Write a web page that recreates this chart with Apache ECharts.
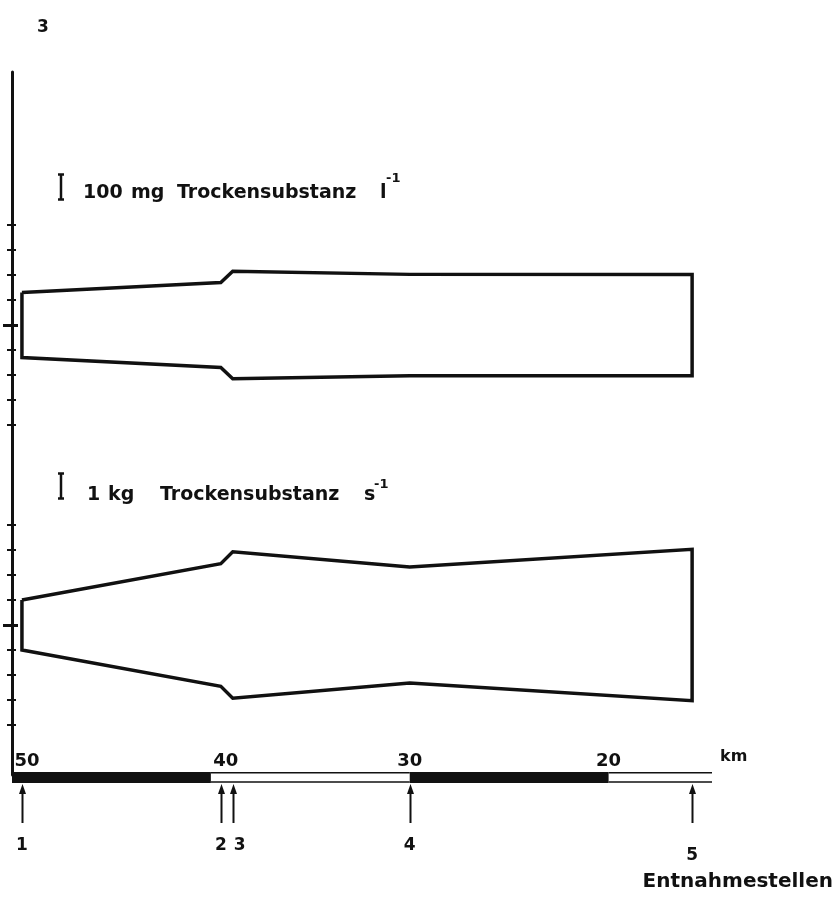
<!DOCTYPE html>
<html>
<head>
<meta charset="utf-8">
<script src="https://cdn.jsdelivr.net/npm/echarts@6/dist/echarts.min.js"></script>
<style>
html, body { margin: 0; padding: 0; background: #fff; }
#chart { width: 834px; height: 906px; }
</style>
</head>
<body>
<div id="chart"></div>
<script>
// Entnahmestellen (sampling points) and their river km
const stations = ['1', '2', '3', '4', '5']
const stationKm = [49.5, 39.5, 38.9, 30.0, 15.8]

// band width at each station
const concentration = [260, 340, 430, 405, 405] // mg Trockensubstanz l-1
const load = [2.0, 4.9, 5.85, 4.65, 6.05] // kg Trockensubstanz s-1

// y ticks: one every 100 mg/l and every 1 kg/s
const concTicks = [-400, -300, -200, -100, 0, 100, 200, 300, 400]
const loadTicks = [-4, -3, -2, -1, 0, 1, 2, 3, 4]

// km scale bar: [from, to, filled]
const kmTicks = [50, 40, 30, 20]
const kmSegments = [[50, 40, 1], [40, 30, 0], [30, 20, 1], [20, 14.8, 0]]
const kmMin = 14.8
const kmMax = 50

const INK = '#111'
const FONT = '"DejaVu Sans", sans-serif'

// closed outline of a band: upper edge left to right, lower edge back
function outline(widths) {
  const top = stationKm.map((km, i) => [km, widths[i] / 2])
  const bottom = stationKm.map((km, i) => [km, -widths[i] / 2]).reverse()
  return [...top, ...bottom, top[0]]
}

function kmAxis(gridIndex, extra) {
  return Object.assign({
    gridIndex,
    type: 'value',
    min: kmMin,
    max: kmMax,
    inverse: true,
    show: false,
    axisLine: { onZero: false },
    splitLine: { show: false },
  }, extra)
}

// ticks crossing the axis line, the centre one longer
function tickAxes(gridIndex, range, ticks) {
  const minor = ticks.filter((v) => v !== 0)
  const make = (values, inside, length, width) => ({
    gridIndex,
    type: 'value',
    position: 'left',
    min: -range,
    max: range,
    axisLine: { show: false, onZero: false },
    axisLabel: { show: false },
    splitLine: { show: false },
    axisTick: {
      show: true,
      inside,
      length,
      customValues: values,
      lineStyle: { color: INK, width },
    },
  })
  return [
    make(minor, false, 5, 2),
    make(minor, true, 4, 2),
    make([0], false, 9, 3),
    make([0], true, 6, 3),
  ]
}

// label nudges (px) for the station numbers: [right, down]
const stationNudge = { '3': [7, 0], '5': [0, 10] }

const boldText = (size) => ({ fontFamily: FONT, fontWeight: 'bold', fontSize: size, color: INK })

const stationRich = { s: boldText(17) }
Object.keys(stationNudge).forEach((name) => {
  const n = stationNudge[name]
  stationRich['n' + name] = Object.assign(boldText(17), {
    padding: [n[1], n[0] < 0 ? -n[0] * 2 : 0, 0, n[0] > 0 ? n[0] * 2 : 0],
  })
})

const chart = echarts.init(document.getElementById('chart'))

chart.setOption({
  animation: false,
  backgroundColor: '#fff',
  textStyle: { fontFamily: FONT },
  grid: [
    { left: 12, width: 700, top: 72, height: 703 },
    { left: 12, width: 700, top: 125, height: 400 },
    { left: 12, width: 700, top: 425, height: 400 },
    { left: 12, width: 700, top: 772, height: 11 },
    { left: 12, width: 700, top: 784, height: 39 },
  ],
  xAxis: [
    kmAxis(0),
    kmAxis(1),
    kmAxis(2),
    kmAxis(3, {
      show: true,
      position: 'top',
      axisLine: { show: false, onZero: false },
      axisTick: { show: false },
      axisLabel: {
        customValues: kmTicks,
        margin: 2,
        formatter: (v) => (v >= 40 ? '{l|' + v + '}' : '{c|' + v + '}'),
        rich: {
          l: Object.assign(boldText(18), { padding: [0, 0, 0, 30] }),
          c: boldText(18),
        },
      },
    }),
    kmAxis(4, {
      show: true,
      position: 'bottom',
      axisLine: { show: false, onZero: false },
      axisTick: { show: false },
      axisLabel: {
        customValues: stationKm,
        margin: 14,
        formatter: (v) => {
          const name = stations[stationKm.indexOf(v)]
          return stationNudge[name] ? '{n' + name + '|' + name + '}' : '{s|' + name + '}'
        },
        rich: stationRich,
      },
    }),
  ],
  yAxis: [
    {
      gridIndex: 0,
      type: 'value',
      min: 0,
      max: 1,
      axisLine: { show: true, onZero: false, lineStyle: { color: INK, width: 3 } },
      axisTick: { show: false },
      axisLabel: { show: false },
      splitLine: { show: false },
    },
    ...tickAxes(1, 800, concTicks),
    ...tickAxes(2, 8, loadTicks),
    { gridIndex: 3, type: 'value', min: 0, max: 1, show: false },
    { gridIndex: 4, type: 'value', min: 0, max: 1, show: false },
  ],
  series: [
    {
      name: 'mg Trockensubstanz l-1',
      type: 'line',
      xAxisIndex: 1,
      yAxisIndex: 1,
      data: outline(concentration),
      symbol: 'none',
      lineStyle: { color: INK, width: 3.5, join: 'miter' },
    },
    {
      name: 'kg Trockensubstanz s-1',
      type: 'line',
      xAxisIndex: 2,
      yAxisIndex: 5,
      data: outline(load),
      symbol: 'none',
      lineStyle: { color: INK, width: 3.5, join: 'miter' },
    },
    {
      type: 'custom',
      xAxisIndex: 3,
      yAxisIndex: 9,
      data: kmSegments,
      encode: { x: [0, 1] },
      renderItem: (params, api) => {
        const a = api.coord([api.value(0), 1])
        const b = api.coord([api.value(1), 0])
        const x = Math.min(a[0], b[0])
        const w = Math.abs(b[0] - a[0])
        const y = a[1]
        const h = b[1] - a[1]
        if (api.value(2)) {
          return { type: 'rect', shape: { x, y, width: w, height: h }, style: { fill: INK } }
        }
        return {
          type: 'group',
          children: [
            { type: 'line', shape: { x1: x, y1: y + 0.75, x2: x + w, y2: y + 0.75 }, style: { stroke: INK, lineWidth: 1.5 } },
            { type: 'line', shape: { x1: x, y1: y + h - 1, x2: x + w, y2: y + h - 1 }, style: { stroke: INK, lineWidth: 1.5 } },
          ],
        }
      },
    },
    {
      type: 'custom',
      xAxisIndex: 4,
      yAxisIndex: 10,
      data: stationKm.map((km) => [km]),
      encode: { x: 0 },
      renderItem: (params, api) => {
        const top = api.coord([api.value(0), 1])
        const bottom = api.coord([api.value(0), 0])
        const x = Math.round(top[0]) + 0.5
        return {
          type: 'group',
          children: [
            { type: 'line', shape: { x1: x, y1: bottom[1], x2: x, y2: top[1] + 6 }, style: { stroke: INK, lineWidth: 2 } },
            { type: 'polygon', shape: { points: [[x, top[1]], [x - 3.5, top[1] + 10], [x + 3.5, top[1] + 10]] }, style: { fill: INK } },
          ],
        }
      },
    },
  ],
})

// scale keys drawn as long as one unit on each axis
const unitConc = chart.convertToPixel({ yAxisIndex: 1 }, 0) - chart.convertToPixel({ yAxisIndex: 1 }, 100)
const unitLoad = chart.convertToPixel({ yAxisIndex: 5 }, 0) - chart.convertToPixel({ yAxisIndex: 5 }, 1)

function scaleKey(x, cy, len) {
  const y1 = cy - len / 2
  const y2 = cy + len / 2
  const stroke = { stroke: INK, lineWidth: 2.5 }
  return {
    type: 'group',
    children: [
      { type: 'line', shape: { x1: x, y1, x2: x, y2 }, style: stroke },
      { type: 'line', shape: { x1: x - 3, y1, x2: x + 3, y2: y1 }, style: stroke },
      { type: 'line', shape: { x1: x - 3, y1: y2, x2: x + 3, y2 }, style: stroke },
    ],
  }
}

function label(text, x, y, size, align) {
  return {
    type: 'text',
    x,
    y,
    style: {
      text,
      fill: INK,
      font: 'bold ' + size + 'px ' + FONT,
      align: align || 'left',
      verticalAlign: 'middle',
    },
  }
}

chart.setOption({
  graphic: [
    label('3', 37, 28, 17),
    scaleKey(61, 187, unitConc),
    label('100', 83, 193, 19),
    label('mg', 131, 193, 19),
    label('Trockensubstanz', 177, 193, 19),
    label('l', 380, 193, 19),
    label('-1', 386, 179, 13),
    scaleKey(61, 486, unitLoad),
    label('1', 87, 495, 19),
    label('kg', 108, 495, 19),
    label('Trockensubstanz', 160, 495, 19),
    label('s', 364, 495, 19),
    label('-1', 374, 485, 13),
    label('km', 720, 757, 16),
    label('Entnahmestellen', 833, 882, 20, 'right'),
  ],
})
</script>
</body>
</html>
